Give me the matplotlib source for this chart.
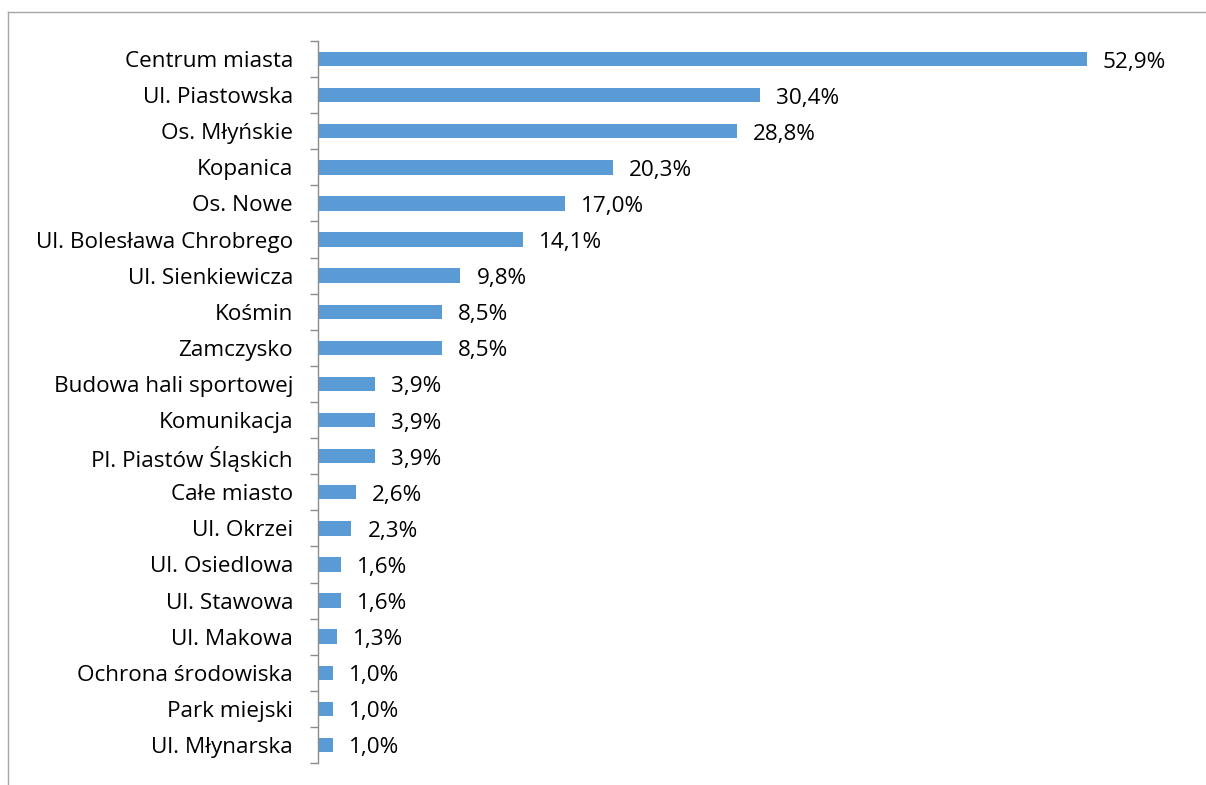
import matplotlib
matplotlib.use("Agg")
import matplotlib.pyplot as plt
import numpy as np
from matplotlib.lines import Line2D

categories = ["Centrum miasta", "Ul. Piastowska", "Os. Młyńskie", "Kopanica", "Os. Nowe",
              "Ul. Bolesława Chrobrego", "Ul. Sienkiewicza", "Kośmin", "Zamczysko",
              "Budowa hali sportowej", "Komunikacja", "Pl. Piastów Śląskich", "Całe miasto",
              "Ul. Okrzei", "Ul. Osiedlowa", "Ul. Stawowa", "Ul. Makowa",
              "Ochrona środowiska", "Park miejski", "Ul. Młynarska"]
values = [52.9, 30.4, 28.8, 20.3, 17.0, 14.1, 9.8, 8.5, 8.5, 3.9, 3.9, 3.9, 2.6, 2.3,
          1.6, 1.6, 1.3, 1.0, 1.0, 1.0]

plt.rcParams['font.family'] = ['Open Sans', 'DejaVu Sans']

W, H = 1206, 785
fig = plt.figure(figsize=(W/100, H/100), dpi=100)
ax = fig.add_axes([318/W, 1-763/H, (1190-318)/W, (763-41)/H])

n = len(categories)
y = np.arange(n)
ax.barh(y, values, height=0.4, color="#5B9BD5")
ax.set_ylim(n-0.5, -0.5)
ax.set_xlim(0, 60)

FS = 16.2
for yi, v in zip(y, values):
    ax.annotate(f"{v:.1f}%".replace(".", ","), (v, yi), xytext=(16, -3),
                textcoords="offset pixels", va="center", ha="left", fontsize=FS, color="black")

ax.set_yticks(y)
ax.set_yticklabels(categories, fontsize=FS)
ax.tick_params(axis='y', which='major', length=0, pad=18)
ax.set_yticks(np.arange(n+1)-0.5, minor=True)
ax.tick_params(axis='y', which='minor', length=5.5, width=1, color="#8c8c8c", direction='out')
ax.set_xticks([])
for s in ["top", "right", "bottom"]:
    ax.spines[s].set_visible(False)
ax.spines["left"].set_color("#8c8c8c")
ax.spines["left"].set_linewidth(1)

# outer chart border (only top and left visible)
fig.add_artist(Line2D([8/W, 1], [1-12/H, 1-12/H], transform=fig.transFigure, color="#a6a6a6", lw=1))
fig.add_artist(Line2D([8/W, 8/W], [0, 1-12/H], transform=fig.transFigure, color="#a6a6a6", lw=1))

fig.savefig("out.png", dpi=100, facecolor="white")
